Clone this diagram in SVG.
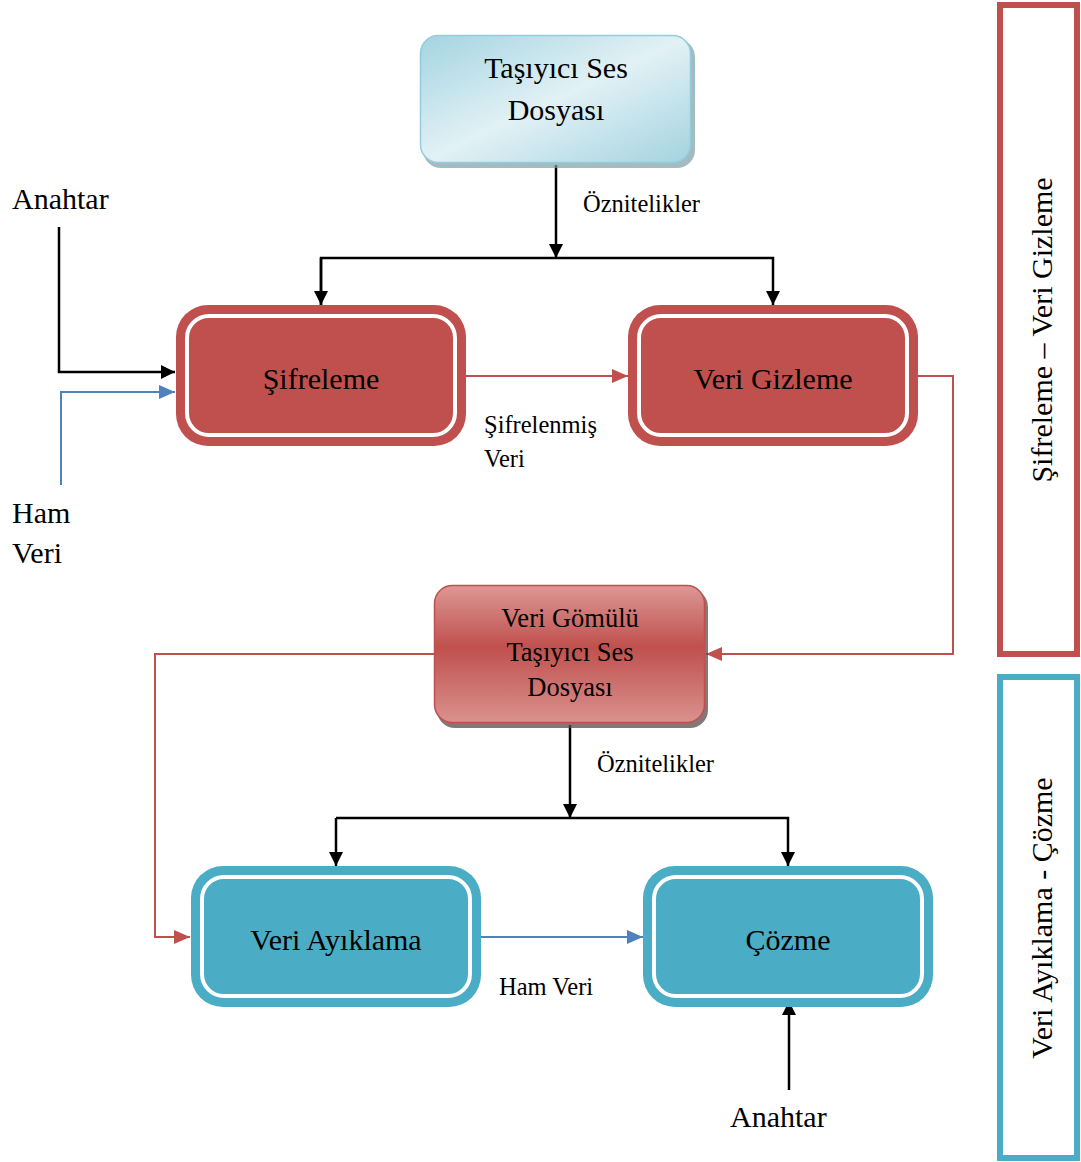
<svg xmlns="http://www.w3.org/2000/svg" width="1081" height="1162" viewBox="0 0 1081 1162">
  <style>
    text { font-family: "Liberation Serif", "Times New Roman", serif; fill: #000; }
    .node-text { font-size: 30px; text-anchor: middle; }
    .mid-text { font-size: 26.5px; text-anchor: middle; }
    .label { font-size: 24.5px; }
    .side { font-size: 30px; text-anchor: middle; }
    .red-node { fill: #c0504d; }
    .cyan-node { fill: #4bacc6; }
    .ring { fill: none; stroke: #fff; stroke-width: 4; }
    .blk { fill: none; stroke: #000; stroke-width: 2.5; }
    .red { fill: none; stroke: #c0504d; stroke-width: 2; }
    .blu { fill: none; stroke: #4f81bd; stroke-width: 2; }
  </style>
  <defs>
    <marker id="ah-black" markerUnits="userSpaceOnUse" markerWidth="14" markerHeight="14" refX="14" refY="7" orient="auto">
      <path d="M0,0 L14,7 L0,14 z" fill="#000"/>
    </marker>
    <marker id="ah-red" markerUnits="userSpaceOnUse" markerWidth="16" markerHeight="14" refX="16" refY="7" orient="auto">
      <path d="M0,0 L16,7 L0,14 z" fill="#c0504d"/>
    </marker>
    <marker id="ah-blue" markerUnits="userSpaceOnUse" markerWidth="16" markerHeight="14" refX="16" refY="7" orient="auto">
      <path d="M0,0 L16,7 L0,14 z" fill="#4f81bd"/>
    </marker>
    <linearGradient id="g-carrier" x1="0" y1="0" x2="1" y2="1">
      <stop offset="0" stop-color="#a3d4e1"/>
      <stop offset="0.5" stop-color="#e2f1f5"/>
      <stop offset="1" stop-color="#a3d3e0"/>
    </linearGradient>
    <linearGradient id="g-embedded" x1="0" y1="0" x2="0" y2="1">
      <stop offset="0" stop-color="#dc9896"/>
      <stop offset="0.45" stop-color="#c0504d"/>
      <stop offset="1" stop-color="#d9928f"/>
    </linearGradient>
  </defs>

  <!-- connectors -->
  <g id="connectors">
    <!-- attributes from carrier to both processes -->
    <line class="blk" x1="556" y1="165" x2="556" y2="258" marker-end="url(#ah-black)"/>
    <polyline class="blk" points="321,305 321,258 773,258 773,305" marker-end="url(#ah-black)"/>
    <line class="blk" x1="321" y1="258" x2="321" y2="305" marker-end="url(#ah-black)"/>
    <!-- key and raw data into encryption -->
    <polyline class="blk" points="59,227 59,372 175,372" marker-end="url(#ah-black)"/>
    <polyline class="blu" points="61,485 61,392 175,392" marker-end="url(#ah-blue)"/>
    <!-- encrypted data to hiding -->
    <line class="red" x1="466" y1="376" x2="628" y2="376" marker-end="url(#ah-red)"/>
    <!-- hiding output to embedded file -->
    <polyline class="red" points="918,376 953,376 953,654 706,654" marker-end="url(#ah-red)"/>
    <!-- embedded file to extraction -->
    <polyline class="red" points="434,654 155,654 155,937 190,937" marker-end="url(#ah-red)"/>
    <!-- attributes from embedded file -->
    <line class="blk" x1="570" y1="725" x2="570" y2="818" marker-end="url(#ah-black)"/>
    <polyline class="blk" points="336,818 788,818 788,866" marker-end="url(#ah-black)"/>
    <line class="blk" x1="336" y1="818" x2="336" y2="866" marker-end="url(#ah-black)"/>
    <!-- raw data to decryption -->
    <line class="blu" x1="481" y1="937" x2="643" y2="937" marker-end="url(#ah-blue)"/>
    <!-- key into decryption -->
    <line class="blk" x1="789" y1="1090" x2="789" y2="1001" marker-end="url(#ah-black)"/>

    <text class="label" x="583" y="212">Öznitelikler</text>
    <text class="label" x="597" y="772">Öznitelikler</text>
    <text class="label" x="484" y="433">Şifrelenmiş</text>
    <text class="label" x="484" y="467">Veri</text>
    <text class="label" x="499" y="995">Ham Veri</text>
  </g>

  <!-- free-standing inputs -->
  <g id="input-key-top"><text x="12" y="209" style="font-size:30px">Anahtar</text></g>
  <g id="input-raw"><text x="12" y="523" style="font-size:30px">Ham</text><text x="12" y="563" style="font-size:30px">Veri</text></g>
  <g id="input-key-bottom"><text x="730" y="1127" style="font-size:30px">Anahtar</text></g>

  <!-- carrier audio file -->
  <g id="carrier">
    <rect x="423" y="39" width="272" height="129" rx="18" fill="#7f9ea8" opacity="0.7"/>
    <rect x="420.5" y="35.5" width="270" height="127" rx="18" fill="url(#g-carrier)" stroke="#93cddd" stroke-width="1.5"/>
    <text class="node-text" x="556" y="78">Taşıyıcı Ses</text>
    <text class="node-text" x="556" y="120">Dosyası</text>
  </g>

  <!-- encryption -->
  <g id="encrypt">
    <rect class="red-node" x="176" y="305" width="290" height="141" rx="32"/>
    <rect class="ring" x="187" y="316" width="268" height="119" rx="22"/>
    <text class="node-text" x="321" y="389">Şifreleme</text>
  </g>

  <!-- data hiding -->
  <g id="hide">
    <rect class="red-node" x="628" y="305" width="290" height="141" rx="32"/>
    <rect class="ring" x="639" y="316" width="268" height="119" rx="22"/>
    <text class="node-text" x="773" y="389">Veri Gizleme</text>
  </g>

  <!-- embedded carrier file -->
  <g id="embedded">
    <rect x="437" y="589" width="271" height="139" rx="18" fill="#5a4a4a" opacity="0.75"/>
    <rect x="434.5" y="585.5" width="270" height="137" rx="18" fill="url(#g-embedded)" stroke="#c0504d" stroke-width="1.5"/>
    <text class="mid-text" x="570" y="627">Veri Gömülü</text>
    <text class="mid-text" x="570" y="661">Taşıyıcı Ses</text>
    <text class="mid-text" x="570" y="696">Dosyası</text>
  </g>

  <!-- extraction -->
  <g id="extract">
    <rect class="cyan-node" x="191" y="866" width="290" height="141" rx="32"/>
    <rect class="ring" x="202" y="877" width="268" height="119" rx="22"/>
    <text class="node-text" x="336" y="950">Veri Ayıklama</text>
  </g>

  <!-- decryption -->
  <g id="decrypt">
    <rect class="cyan-node" x="643" y="866" width="290" height="141" rx="32"/>
    <rect class="ring" x="654" y="877" width="268" height="119" rx="22"/>
    <text class="node-text" x="788" y="950">Çözme</text>
  </g>

  <!-- phase frames -->
  <g id="phase-hide">
    <rect x="1000" y="5" width="77" height="649" fill="none" stroke="#c0504d" stroke-width="6"/>
    <text class="side" transform="translate(1052,330) rotate(-90)">Şifreleme – Veri Gizleme</text>
  </g>
  <g id="phase-extract">
    <rect x="1000" y="677" width="77" height="481" fill="none" stroke="#4bacc6" stroke-width="6"/>
    <text class="side" transform="translate(1052,918) rotate(-90)">Veri Ayıklama - Çözme</text>
  </g>
</svg>
